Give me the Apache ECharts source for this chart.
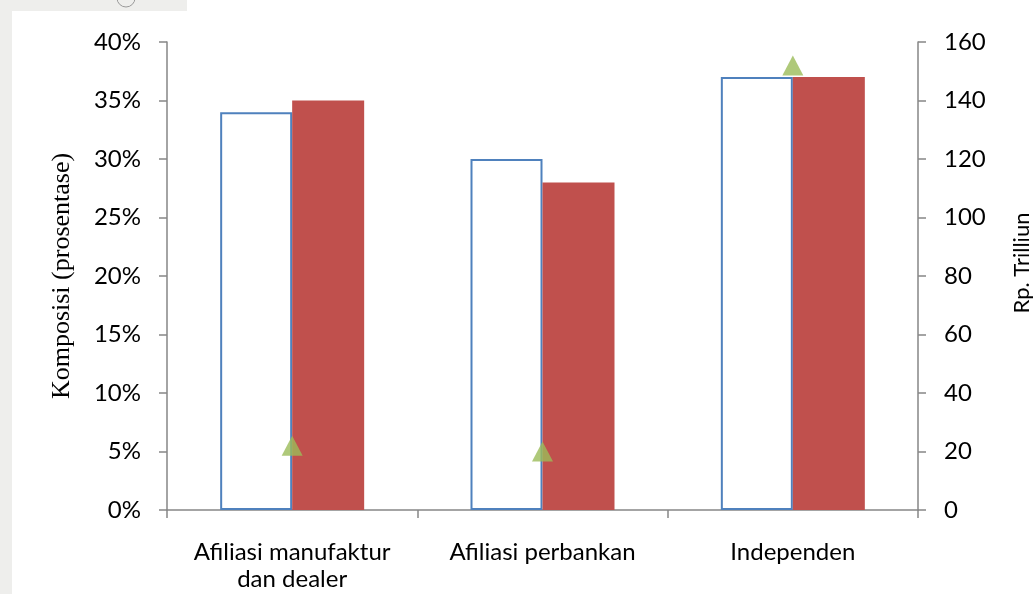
<!DOCTYPE html>
<html>
<head>
<meta charset="utf-8">
<script src="https://cdn.jsdelivr.net/npm/echarts@6/dist/echarts.min.js"></script>
<style>
  html, body { margin: 0; padding: 0; background: #fff; }
  #chart { width: 1034px; height: 594px; }
</style>
</head>
<body>
<div id="chart"></div>
<script>
// Categories of finance companies
const categories = ['Afiliasi manufaktur\ndan dealer', 'Afiliasi perbankan', 'Independen'];
// Composition shares (percent, left axis)
const shareA = [34, 30, 37];
const shareB = [35, 28, 37];
// Amounts in Rp. trillion (right axis)
const amount = [22, 20, 152];

const font = 'Lato, "Open Sans", sans-serif';
const axisGrey = '#868686';

const chart = echarts.init(document.getElementById('chart'), null, { renderer: 'canvas' });
chart.setOption({
  backgroundColor: '#ffffff',
  animation: false,
  graphic: [
    { type: 'rect', shape: { x: 0, y: 0, width: 12, height: 594 }, style: { fill: '#eeeeec' }, silent: true },
    { type: 'rect', shape: { x: 0, y: 0, width: 187, height: 11 }, style: { fill: '#eeeeec' }, silent: true },
    { type: 'circle', shape: { cx: 126, cy: -2, r: 9 }, style: { fill: 'none', stroke: '#9a9a9a', lineWidth: 1 }, silent: true }
  ],
  grid: { left: 167, right: 116, top: 42, bottom: 84, containLabel: false, outerBoundsMode: 'none' },
  xAxis: {
    type: 'category',
    data: categories,
    axisLine: { lineStyle: { color: axisGrey, width: 1.5 } },
    axisTick: { show: true, alignWithLabel: false, length: 8, lineStyle: { color: axisGrey, width: 1.5 } },
    axisLabel: { color: '#000', fontFamily: font, fontSize: 24, margin: 29, lineHeight: 27, interval: 0, hideOverlap: false },
    splitLine: { show: false }
  },
  yAxis: [
    {
      type: 'value', min: 0, max: 40, interval: 5,
      name: 'Komposisi (prosentase)',
      nameLocation: 'middle', nameGap: 92, nameRotate: 90,
      nameTextStyle: { color: '#000', fontFamily: '"Liberation Serif", serif', fontSize: 26 },
      axisLine: { show: true, lineStyle: { color: axisGrey, width: 1.5 } },
      axisTick: { show: true, length: 8, lineStyle: { color: axisGrey, width: 1.5 } },
      axisLabel: { color: '#000', fontFamily: font, fontSize: 24, margin: 26, formatter: '{value}%' },
      splitLine: { show: false }
    },
    {
      type: 'value', min: 0, max: 160, interval: 20,
      name: 'Rp. Trilliun',
      nameLocation: 'middle', nameGap: 104, nameRotate: 90,
      nameTextStyle: { color: '#000', fontFamily: font, fontSize: 22, align: 'center', verticalAlign: 'middle', padding: [0, 0, 0, 26] },
      axisLine: { show: true, lineStyle: { color: axisGrey, width: 1.5 } },
      axisTick: { show: true, length: 8, lineStyle: { color: axisGrey, width: 1.5 } },
      axisLabel: { color: '#000', fontFamily: font, fontSize: 24, margin: 26 },
      splitLine: { show: false }
    }
  ],
  series: [
    {
      type: 'bar', data: shareA, yAxisIndex: 0,
      barWidth: 72, barGap: '0%',
      itemStyle: { color: '#ffffff', borderColor: '#4F81BD', borderWidth: 2 },
      z: 2
    },
    {
      type: 'bar', data: shareB, yAxisIndex: 0,
      barWidth: 72, barGap: '0%',
      itemStyle: { color: '#C0504D' },
      z: 2
    },
    {
      type: 'scatter', data: amount, yAxisIndex: 1,
      symbol: 'triangle', symbolSize: [21, 20],
      itemStyle: { color: '#9BBB59' },
      z: 5
    }
  ]
});
</script>
</body>
</html>
